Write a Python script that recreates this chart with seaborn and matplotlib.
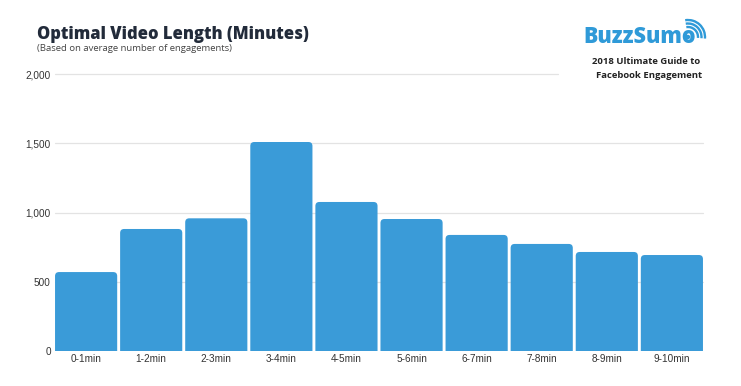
import matplotlib
matplotlib.use("Agg")
import matplotlib.pyplot as plt
import seaborn as sns
import pandas as pd
from matplotlib.patches import FancyBboxPatch, Arc, Ellipse

categories = ["0-1min", "1-2min", "2-3min", "3-4min", "4-5min",
              "5-6min", "6-7min", "7-8min", "8-9min", "9-10min"]
engagements = [570, 881, 958, 1509, 1076, 953, 838, 773, 715, 693]
yticks = [0, 500, 1000, 1500, 2000]
ytick_labels = ["0", "500", "1,000", "1,500", "2,000"]

df = pd.DataFrame({"length": categories, "engagements": engagements})

sns.set_theme(style="white")
plt.rcParams['font.family'] = ['Liberation Sans', 'DejaVu Sans']

W, H = 741, 386
fig = plt.figure(figsize=(W / 100, H / 100), dpi=100)
ax = fig.add_axes([55 / W, 1 - 351 / H, (703 - 55) / W, (351 - 74) / H])

bar_color = "#3a9bd8"
sns.barplot(data=df, x="length", y="engagements", color=bar_color,
            width=0.955, saturation=1, ax=ax, zorder=3)

ax.set_xlim(-0.478, 9.478)
ax.set_ylim(0, 2000)

# rounded tops: replace rectangles by rounded boxes (bottom hidden below 0)
xpx = (703 - 55) / 9.956
ypx = (351 - 74) / 2000
r = 4 / xpx
aspect = (1 / ypx) / (1 / xpx)
for p in list(ax.patches):
    x0, w, h = p.get_x(), p.get_width(), p.get_height()
    fb = FancyBboxPatch((x0, -60), w, h + 60,
                        boxstyle=f"round,pad=0,rounding_size={r}",
                        mutation_aspect=aspect, facecolor=bar_color,
                        edgecolor="none", zorder=3, clip_on=True)
    p.remove()
    ax.add_patch(fb)
    fb.set_clip_path(ax.patch)

# grid lines
for v in yticks[1:]:
    xmax = (558 - 55) / (703 - 55) if v == 2000 else 1.0
    ax.axhline(v, xmin=0, xmax=xmax, color="#e3e3e3", lw=0.9, zorder=1,
               clip_on=False)

ax.set_yticks(yticks)
ax.set_yticklabels(ytick_labels)
ax.set_xlabel("")
ax.set_ylabel("")
for s in ax.spines.values():
    s.set_visible(False)
ax.tick_params(axis="y", length=0, pad=3, labelsize=7.2, labelcolor="#333333")
ax.tick_params(axis="x", length=0, pad=2, labelsize=7.2, labelcolor="#333333")

# title & subtitle
fig.text(37 / W, 1 - 39 / H, "Optimal Video Length (Minutes)",
         family=["Open Sans", "DejaVu Sans"], weight=800, fontsize=11.9,
         color="#222b3a", ha="left", va="baseline")
fig.text(37 / W, 1 - 51 / H, "(Based on average number of engagements)",
         family=["Open Sans", "DejaVu Sans"], fontsize=6.8,
         color="#444444", ha="left", va="baseline")

# BuzzSumo logo
logo_blue = "#2f9ad8"
fig.text(583 / W, 1 - 43 / H, "BuzzSumo",
         family=["Open Sans", "DejaVu Sans"], weight=800, fontsize=15.5,
         color=logo_blue, ha="left", va="baseline")
cx, cy = 688, 37
fig.add_artist(Ellipse((cx / W, 1 - cy / H), 3.0 / W, 3.0 / H,
                       color=logo_blue, transform=fig.transFigure))
for rad in (10, 13.5, 17):
    arc = Arc((cx / W, 1 - cy / H), 2 * rad / W, 2 * rad / H,
              theta1=-10, theta2=95, color=logo_blue, lw=1.7,
              transform=fig.transFigure)
    fig.add_artist(arc)

fig.text(646 / W, 1 - 64 / H, "2018 Ultimate Guide to",
         family=["Open Sans", "DejaVu Sans"], weight="bold", fontsize=6.8,
         color="#222222", ha="center", va="baseline")
fig.text(649 / W, 1 - 78 / H, "Facebook Engagement",
         family=["Open Sans", "DejaVu Sans"], weight="bold", fontsize=6.8,
         color="#222222", ha="center", va="baseline")

fig.savefig("out.png", dpi=100, facecolor="white")
